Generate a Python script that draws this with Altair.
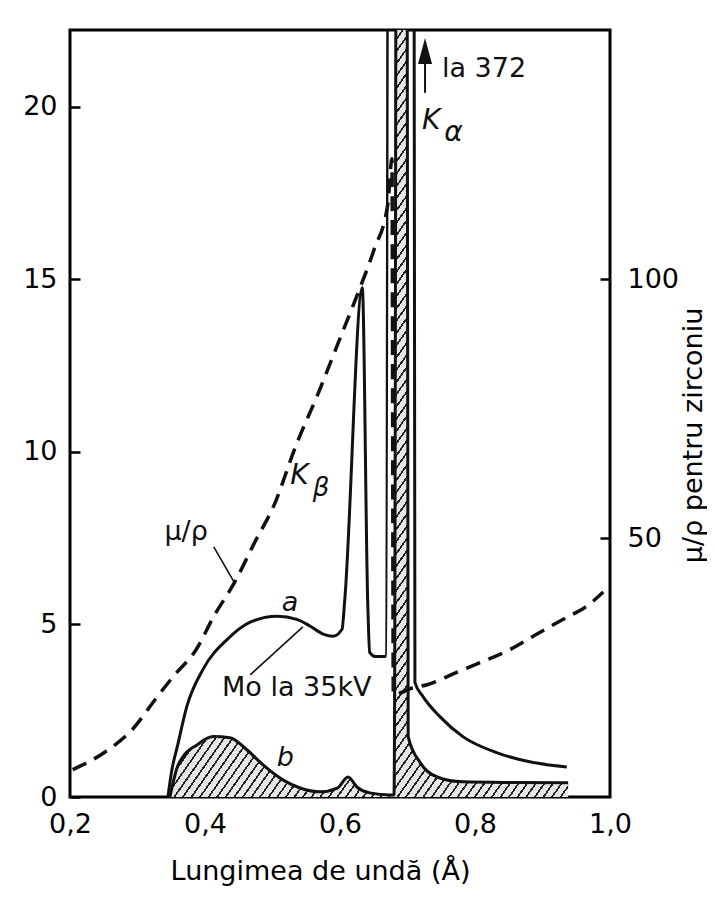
import altair as alt
import pandas as pd

# ---------------- data ----------------
# curve a: Mo tube at 35 kV, unfiltered (relative intensity, left axis)
a_wavelength = [0.345, 0.351, 0.359, 0.373, 0.397, 0.433, 0.467, 0.507, 0.536, 0.556,
                0.575, 0.590, 0.603, 0.607, 0.633, 0.641, 0.644, 0.652, 0.667, 0.689,
                0.711, 0.723, 0.748, 0.782, 0.833, 0.881, 0.936]
a_intensity = [0.0, 0.79, 1.46, 2.62, 3.70, 4.57, 5.07, 5.24, 5.15, 4.95,
               4.72, 4.66, 4.86, 5.7, 14.76, 5.7, 4.19, 4.07, 4.07, 372.0,
               3.32, 2.91, 2.33, 1.75, 1.28, 1.02, 0.87]

# curve b: after the zirconium filter (hatched)
b_wavelength = [0.348, 0.359, 0.367, 0.388, 0.412, 0.437, 0.462, 0.486, 0.516, 0.541,
                0.570, 0.596, 0.612, 0.625, 0.644, 0.674, 0.680, 0.691, 0.701, 0.719,
                0.744, 0.782, 0.860, 0.938]
b_intensity = [0.0, 0.87, 1.16, 1.51, 1.75, 1.72, 1.37, 0.93, 0.49, 0.26,
               0.15, 0.26, 0.58, 0.29, 0.12, 0.06, 0.06, 150.0, 1.75, 0.99,
               0.58, 0.44, 0.42, 0.41]

# mu/rho of zirconium (right axis)
mu_wavelength = [0.204, 0.252, 0.292, 0.326, 0.353, 0.387, 0.413, 0.444, 0.474, 0.502,
                 0.535, 0.569, 0.596, 0.624, 0.650, 0.671, 0.677, 0.679, 0.708, 0.729,
                 0.773, 0.812, 0.852, 0.892, 0.930, 0.970, 0.990]
mu_value = [5.3, 8.7, 13.0, 18.8, 23.3, 28.5, 34.9, 41.5, 49.3, 56.3,
            68.0, 78.4, 87.3, 96.5, 105.6, 114.7, 123.3, 19.8, 21.1, 21.7,
            24.1, 26.2, 28.5, 31.5, 34.3, 37.3, 39.6]

x_ticks = [0.2, 0.4, 0.6, 0.8, 1.0]
left_ticks = [0, 5, 10, 15, 20]
right_ticks = [50, 100]

# annotations (placed in data coordinates: wavelength, left-axis intensity)
plain_text = ["la 372", "μ/ρ", "Mo la 35kV"]
plain_x = [0.751, 0.372, 0.536]
plain_y = [21.1, 7.68, 3.16]
plain_align = ["left", "center", "center"]

italic_text = ["K", "α", "K", "β", "a", "b"]
italic_x = [0.735, 0.768, 0.540, 0.572, 0.526, 0.519]
italic_y = [19.59, 19.25, 9.30, 8.95, 5.62, 1.13]
italic_size = [28, 28, 28, 26, 27, 27]

leader_x = [0.413, 0.467]
leader_y = [7.25, 3.54]
leader_x2 = [0.444, 0.545]
leader_y2 = [6.20, 4.93]

arrow_x = [0.726]
arrow_y = [20.41]
arrow_y2 = [21.35]
arrow_head_y = [21.62]

# ---------------- layout / style ----------------
X_MIN, X_MAX = 0.2, 1.0
Y_MAX = 22.23
MU_MAX = Y_MAX * 100 / 15
W, H = 540, 767
FONT = "DejaVu Sans"
INK = "#111111"

df_a = pd.DataFrame({"x": a_wavelength, "y": a_intensity})
df_b = pd.DataFrame({"x": b_wavelength, "y": b_intensity})
df_mu = pd.DataFrame({"x": mu_wavelength, "mu": mu_value})


def clip_to_top(xs, ys, top):
    """polyline limited to the top of the plot, adding the crossing points"""
    px, py = [], []
    for i in range(len(xs)):
        if i > 0 and (ys[i - 1] - top) * (ys[i] - top) < 0:
            t = (top - ys[i - 1]) / (ys[i] - ys[i - 1])
            px.append(xs[i - 1] + t * (xs[i] - xs[i - 1]))
            py.append(top)
        px.append(xs[i])
        py.append(min(ys[i], top))
    return pd.DataFrame({"x": px, "y": py})


df_b_area = clip_to_top(b_wavelength, b_intensity, Y_MAX)

# hatch as a striped linear gradient over the area's bounding box
bw = (max(b_wavelength) - min(b_wavelength)) / (X_MAX - X_MIN) * W
bh = H
nx, ny = 0.819, 0.574          # normal of hatch lines (55 deg "/")
k = (nx * bw + ny * bh) / (nx * nx * bw * bw + ny * ny * bh * bh)
gx2, gy2 = nx * k * bw, ny * k * bh
span = nx * bw + ny * bh
n_stripes = int(span / 7.0)
frac = 0.24
stops = []
for i in range(n_stripes):
    o0 = round(i / n_stripes, 6)
    o1 = round((i + frac) / n_stripes, 6)
    o2 = round((i + 1) / n_stripes, 6)
    stops += [alt.GradientStop(color="#222222", offset=o0),
              alt.GradientStop(color="#222222", offset=o1),
              alt.GradientStop(color="#e6e6e6", offset=o1),
              alt.GradientStop(color="#e6e6e6", offset=o2)]
hatch = alt.LinearGradient(gradient="linear", stops=stops, x1=0, y1=0, x2=gx2, y2=gy2)

x_axis = alt.Axis(values=x_ticks, labelExpr="replace(format(datum.value, '.1f'), '.', ',')",
                  title="Lungimea de undă (Å)", ticks=False, labelFlush=False,
                  labelPadding=14, titleY=82, titleX=250, titleBaseline="alphabetic",
                  titleAlign="center", titleAnchor="start")
x_enc = alt.X("x:Q", scale=alt.Scale(domain=[X_MIN, X_MAX], nice=False, zero=False), axis=x_axis)
y_scale = alt.Scale(domain=[0, Y_MAX], nice=False)


def y_enc(field="y", axis=None):
    return alt.Y(f"{field}:Q", scale=y_scale, axis=axis)


left_axis = alt.Axis(values=left_ticks, title=None, offset=-10, tickSize=10, labelPadding=13)
right_axis = alt.Axis(values=right_ticks, orient="right", title="μ/ρ pentru zirconiu",
                      offset=-10, tickSize=10, labelPadding=17, titleAngle=270,
                      titleX=93, titleY=405, titleBaseline="middle", titleAlign="center",
                      titleAnchor="start")

area_b = alt.Chart(df_b_area).mark_area(interpolate="monotone", clip=True, fill=hatch,
                                        stroke=None).encode(x=x_enc, y=y_enc(axis=left_axis))
line_b = alt.Chart(df_b).mark_line(interpolate="monotone", clip=True, color=INK,
                                   strokeWidth=3).encode(x=x_enc, y=y_enc())
line_a = alt.Chart(df_a).mark_line(interpolate="monotone", clip=True, color=INK,
                                   strokeWidth=3).encode(x=x_enc, y=y_enc())
line_mu = alt.Chart(df_mu).mark_line(interpolate="monotone", clip=True, color=INK,
                                     strokeWidth=3.5, strokeDash=[15, 9]).encode(
    x=x_enc, y=alt.Y("mu:Q", scale=alt.Scale(domain=[0, MU_MAX], nice=False), axis=right_axis))

df_plain = pd.DataFrame({"x": plain_x, "y": plain_y, "t": plain_text, "al": plain_align})
txt_left = alt.Chart(df_plain[df_plain.al == "left"]).mark_text(
    font=FONT, fontSize=27, align="left", baseline="middle", color=INK).encode(
    x=x_enc, y=y_enc(), text="t:N")
txt_center = alt.Chart(df_plain[df_plain.al == "center"]).mark_text(
    font=FONT, fontSize=27, align="center", baseline="middle", color=INK).encode(
    x=x_enc, y=y_enc(), text="t:N")

df_it = pd.DataFrame({"x": italic_x, "y": italic_y, "t": italic_text, "s": italic_size})
txt_it = alt.Chart(df_it).mark_text(font=FONT, fontStyle="italic", align="center",
                                    baseline="middle", color=INK).encode(
    x=x_enc, y=y_enc(), text="t:N", size=alt.Size("s:Q", scale=None, legend=None))

df_lead = pd.DataFrame({"x": leader_x, "y": leader_y, "x2": leader_x2, "y2": leader_y2})
leaders = alt.Chart(df_lead).mark_rule(color=INK, strokeWidth=1.6).encode(
    x=x_enc, y=y_enc(), x2="x2:Q", y2="y2:Q")

df_arrow = pd.DataFrame({"x": arrow_x, "y": arrow_y, "y2": arrow_y2, "yh": arrow_head_y})
arrow_shaft = alt.Chart(df_arrow).mark_rule(color=INK, strokeWidth=2).encode(
    x=x_enc, y=y_enc(), y2="y2:Q")
arrow_head = alt.Chart(df_arrow).mark_point(shape="M0,-1L0.54,1L-0.54,1Z", filled=True,
                                            size=676, color=INK, opacity=1).encode(
    x=x_enc, y=y_enc("yh"))

chart = alt.layer(
    area_b, line_b, line_a, line_mu, leaders, txt_left, txt_center, txt_it,
    arrow_shaft, arrow_head
).resolve_scale(y="independent").properties(
    width=W, height=H,
    autosize=alt.AutoSizeParams(type="none"),
    padding={"left": 62, "top": 22, "right": 97, "bottom": 90},
    background="white",
).configure_view(stroke="black", strokeWidth=3).configure_axis(
    labelFont=FONT, titleFont=FONT, labelColor="black", titleColor="black",
    labelFontSize=27, titleFontSize=27, titleFontWeight="normal", grid=False,
    domain=False, tickColor="black", tickWidth=2.5)

chart.save("out.html", embed_options={"renderer": "svg", "actions": False})
